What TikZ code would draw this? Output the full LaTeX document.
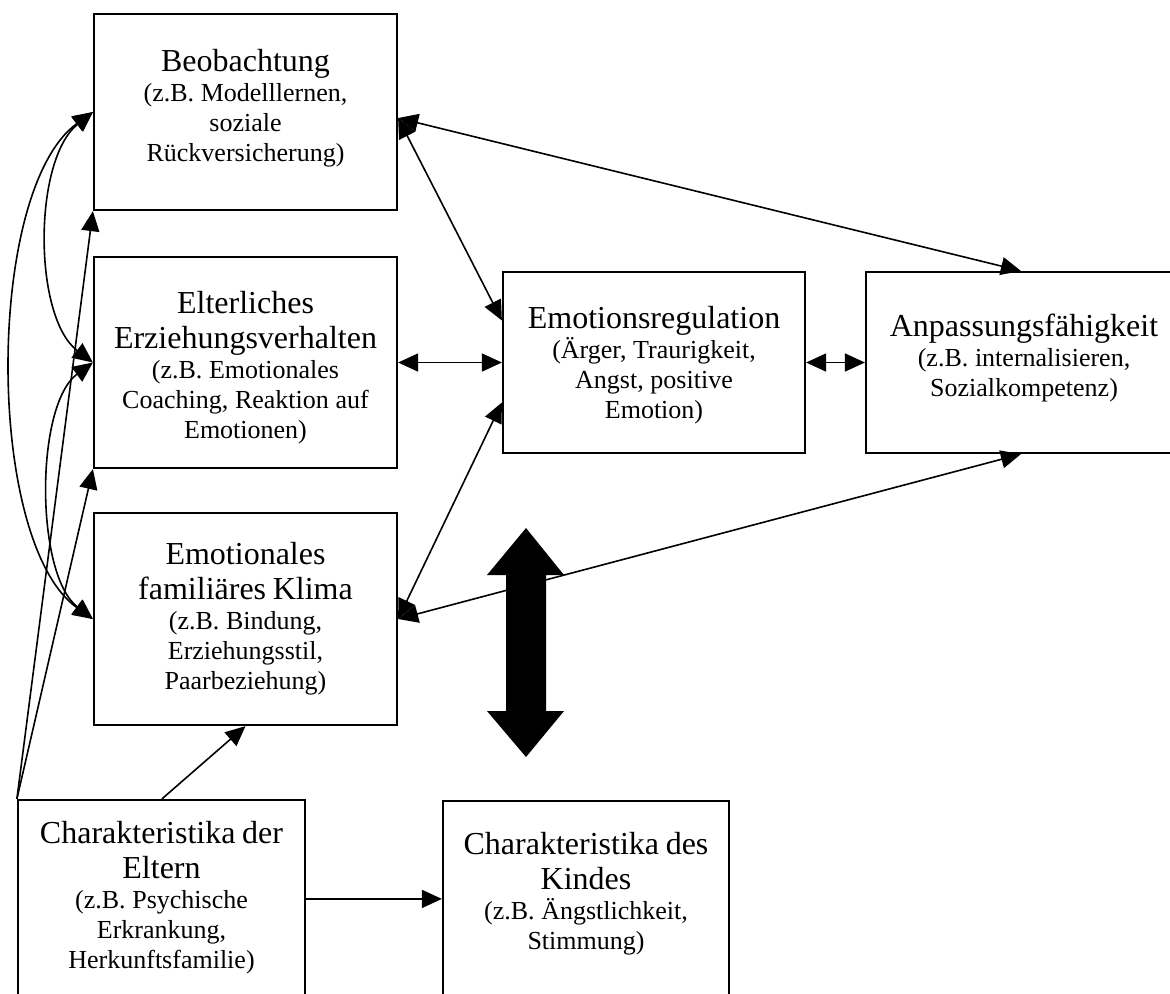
\documentclass[tikz,border=0pt]{standalone}
\usepackage{fontspec}
\setmainfont{Liberation Serif}
\usetikzlibrary{arrows.meta,positioning}

\newcommand{\boxtitle}{\fontsize{16}{17.5}\selectfont\rule{0pt}{12pt}}
\newcommand{\boxnote}{\fontsize{13}{15}\selectfont}

\begin{document}
\begin{tikzpicture}[x=0.5pt, y=-0.5pt,
        box/.style={rectangle, draw, line width=1.1pt, inner sep=0pt},
        txt/.style={inner sep=0pt, text width=148pt, align=center},
        link/.style={line width=0.8pt},
        >={Triangle[length=10pt, width=9pt]}]
        \useasboundingbox (0,0) rectangle (1170,993);
        \clip (0,0) rectangle (1170,993);

        %% Boxes
        \node[box, minimum width=151.5pt, minimum height=98pt] (beob) at (245.5,112) {};
        \node[box, minimum width=151.5pt, minimum height=105.5pt] (erz) at (245.5,362.5) {};
        \node[box, minimum width=151.5pt, minimum height=106pt] (klima) at (245.5,619) {};
        \node[box, minimum width=151pt, minimum height=90.5pt] (emo) at (654,362.5) {};
        \node[box, minimum width=158pt, minimum height=90.5pt] (anp) at (1024,362.5) {};
        \node[box, minimum width=143.5pt, minimum height=105pt] (eltern) at (161.5,905) {};
        \node[box, minimum width=143pt, minimum height=104.5pt] (kind) at (586,905.5) {};

        %% Texts
        \node[txt, below=17.3pt of beob.north] (beobtxt) {\boxtitle Beobachtung\par
            \boxnote (z.B. Modelllernen,\\ soziale\\ Rückversicherung)\par};
        \node[txt, below=16.5pt of erz.north] (erztxt) {\boxtitle Elterliches\\ Erziehungsverhalten\par
            \boxnote (z.B. Emotionales\\ Coaching, Reaktion auf\\ Emotionen)\par};
        \node[txt, below=14pt of klima.north] (klimatxt) {\boxtitle Emotionales\\ familiäres Klima\par
            \boxnote (z.B. Bindung,\\ Erziehungsstil,\\ Paarbeziehung)\par};
        \node[txt, below=16.5pt of emo.north] (emotxt) {\boxtitle Emotionsregulation\par
            \boxnote (Ärger, Traurigkeit,\\ Angst, positive\\ Emotion)\par};
        \node[txt, below=20.5pt of anp.north] (anptxt) {\boxtitle Anpassungsfähigkeit\par
            \boxnote (z.B. internalisieren,\\ Sozialkompetenz)\par};
        \node[txt, below=10pt of eltern.north] (elterntxt) {\boxtitle Charakteristika der\\ Eltern\par
            \boxnote (z.B. Psychische\\ Erkrankung,\\ Herkunftsfamilie)\par};
        \node[txt, below=15pt of kind.north] (kindtxt) {\boxtitle Charakteristika des\\ Kindes\par
            \boxnote (z.B. Ängstlichkeit,\\ Stimmung)\par};

        %% Big double arrow
        \fill (526,528) -- (564,575) -- (546,575) -- (546,711) -- (564,711) -- (526,757)
            -- (487,711) -- (506,711) -- (506,575) -- (487,575) -- cycle;

        %% Connectors
        \draw[link, <->] ([yshift=-3pt]beob.east) -- ([yshift=21pt]emo.west);
        \draw[link, <->] ([yshift=-3pt]beob.east) -- ([xshift=78pt]anp.north west);
        \draw[link, <->] (erz.east) -- (emo.west);
        \draw[link, <->] (klima.east) -- ([yshift=-20pt]emo.west);
        \draw[link, <->] (klima.east) -- ([xshift=78pt]anp.south west);
        \draw[link, <->] (emo.east) -- (anp.west);
        \draw[link, ->] ([xshift=72.5pt]eltern.north west) -- (klima.south);
        \draw[link, ->] ([yshift=-50pt]eltern.north east) -- ([yshift=-50pt]eltern.north east -| kind.west);
        \draw[link, ->] (eltern.north west) -- (beob.south west);
        \draw[link, ->] (eltern.north west) -- (erz.south west);

        %% Curved links on the left
        \draw[link, <->] (beob.west) .. controls (33,160) and (33,317) .. (erz.west);
        \draw[link, <->] (erz.west) .. controls (35,405) and (35,574) .. (klima.west);
        \draw[link, <->] (beob.west) .. controls (-15,190) and (-15,542) .. (klima.west);
\end{tikzpicture}
\end{document}
